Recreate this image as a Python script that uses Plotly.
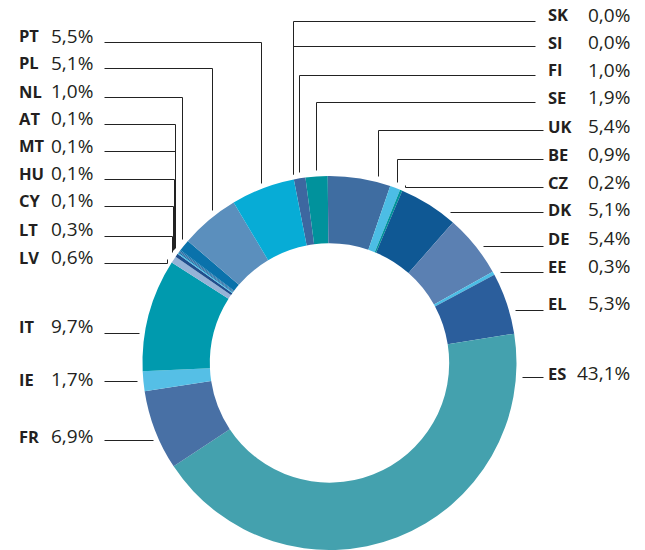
import math
import plotly.graph_objects as go

# Shares by member state, in clockwise order starting near 12 o'clock
countries = ["SK", "SI", "FI", "SE", "UK", "BE", "CZ", "DK", "DE", "EE", "EL", "ES",
             "FR", "IE", "IT", "LV", "LT", "CY", "HU", "MT", "AT", "NL", "PL", "PT"]
shares = [0.0, 0.0, 1.0, 1.9, 5.4, 0.9, 0.2, 5.1, 5.4, 0.3, 5.3, 43.1,
          6.9, 1.7, 9.7, 0.6, 0.3, 0.1, 0.1, 0.1, 0.1, 1.0, 5.1, 5.5]
colors = ["#3f6da1", "#00929c", "#3d67a0", "#01929c", "#3f6da1", "#4cbde5", "#00939b",
          "#0f5894", "#5b80b2", "#4cbde5", "#2b5e9c", "#44a1ae", "#4870a5", "#55bfe6",
          "#009aae", "#95b3d7", "#1f4e8c", "#4cbde5", "#0a72ab", "#3f6da1", "#0f72ab",
          "#0a72ab", "#5b8fbd", "#07acd6"]

# Label rows: (country, y of leader line, y of text centre, where along the slice the line lands)
left_rows = [("PT", 42, 36, 0.5), ("PL", 68, 63, 0.64), ("NL", 97, 91, 0.83),
             ("AT", 124, 118, 0.5), ("MT", 151, 146, 0.5), ("HU", 179, 173, 0.5),
             ("CY", 206, 200, 0.5), ("LT", 236, 229, 0.5), ("LV", 263, 257, 0.5),
             ("IT", 333, 326, 0.5), ("IE", 381, 379, 0.5), ("FR", 440, 436, 0.5)]
right_rows = [("SK", 21, 15, 0.5), ("SI", 46, 42, 0.5), ("FI", 75, 70, 0.5),
              ("SE", 102, 97, 0.5), ("UK", 130, 126, 0.78), ("BE", 159, 154, 0.5),
              ("CZ", 187, 182, 0.5), ("DK", 212, 209, 0.5), ("DE", 246, 238, 0.5),
              ("EE", 272, 266, 0.5), ("EL", 310, 303, 0.5), ("ES", 377, 373, 0.5)]

W, H = 645, 550
CX, R = 329.5, 187.0           # ring centre x and outer radius (px)
CY = H - R                     # ring sits on the bottom edge
HOLE = 0.64
ROTATION = -11.0
GAP = 6.0                      # leader lines stop short of the ring

fig = go.Figure(go.Pie(
    labels=countries, values=shares, sort=False, direction="clockwise",
    rotation=ROTATION, hole=HOLE, textinfo="none", hoverinfo="label+percent",
    marker=dict(colors=colors, line=dict(width=0)),
    domain=dict(x=[(CX - R) / W, (CX + R) / W], y=[0, 2 * R / H]),
    showlegend=False,
))

# slice angular ranges (deg clockwise from 12 o'clock), same arithmetic as the pie
total = sum(shares)
ranges = {}
acc = 0.0
for c, v in zip(countries, shares):
    a0 = ROTATION + acc / total * 360
    acc += v
    a1 = ROTATION + acc / total * 360
    ranges[c] = (a0, a1)


def px(x):
    # snap to pixel centres so 1px leader lines stay crisp
    return (round(x) + 0.5) / W


def py(y):
    return 1 - (round(y) + 0.5) / H


def ring_point(theta, r):
    t = math.radians(theta)
    return CX + r * math.sin(t), CY - r * math.cos(t)


def leader(code, yline, frac, side):
    """Points of the leader line from the label row to its slice."""
    a0, a1 = ranges[code]
    rl = R + GAP
    c = (CY - yline) / rl
    if abs(c) <= 1:
        th = math.degrees(math.acos(c))
        if side == "left":
            th = -th
        while th < a0 - 180:
            th += 360
        while th > a1 + 180:
            th -= 360
        if a0 <= th <= a1:
            x, _ = ring_point(th, rl)
            return [(x, yline)]
        thc = min(max(th, a0), a1)
        if abs(thc - th) < 3:
            ax, ay = ring_point(thc, rl)
            return [(ax, yline), (ax, ay)]
    th = a0 + frac * (a1 - a0)
    ax, ay = ring_point(th, rl)
    return [(ax, yline), (ax, ay)]


def fmt(v):
    return f"{v:.1f}".replace(".", ",") + "%"


def tx(x):
    return x / W


def ty(y):
    return 1 - y / H


value_of = dict(zip(countries, shares))
code_font = dict(family="Open Sans", size=16.5, color="#231f20")
val_font = dict(family="Open Sans", size=19, color="#231f20")
line_style = dict(color="#222222", width=1)

shapes, annotations = [], []
for code, yline, ytext, frac in left_rows:
    pts = leader(code, yline, frac, "left")
    path = f"M {px(104)},{py(yline)}" + "".join(f" L {px(x)},{py(y)}" for x, y in pts)
    shapes.append(dict(type="path", xref="paper", yref="paper", path=path, line=line_style))
    annotations.append(dict(x=tx(17), y=ty(ytext), xref="paper", yref="paper",
                            text=f"<b>{code}</b>", showarrow=False, xanchor="left",
                            yanchor="middle", font=code_font))
    annotations.append(dict(x=tx(49), y=ty(ytext), xref="paper", yref="paper",
                            text=fmt(value_of[code]), showarrow=False, xanchor="left",
                            yanchor="middle", font=val_font))

for i, (code, yline, ytext, frac) in enumerate(right_rows):
    pts = leader(code, yline, frac, "right")
    xend = 535 if i < 4 else 543
    path = f"M {px(xend)},{py(yline)}" + "".join(f" L {px(x)},{py(y)}" for x, y in pts)
    shapes.append(dict(type="path", xref="paper", yref="paper", path=path, line=line_style))
    annotations.append(dict(x=tx(546), y=ty(ytext), xref="paper", yref="paper",
                            text=f"<b>{code}</b>", showarrow=False, xanchor="left",
                            yanchor="middle", font=code_font))
    annotations.append(dict(x=tx(632), y=ty(ytext), xref="paper", yref="paper",
                            text=fmt(value_of[code]), showarrow=False, xanchor="right",
                            yanchor="middle", font=val_font))

fig.update_layout(
    width=W, height=H, margin=dict(l=0, r=0, t=0, b=0),
    paper_bgcolor="white", plot_bgcolor="white",
    shapes=shapes, annotations=annotations,
)

fig.write_html("out.html")
